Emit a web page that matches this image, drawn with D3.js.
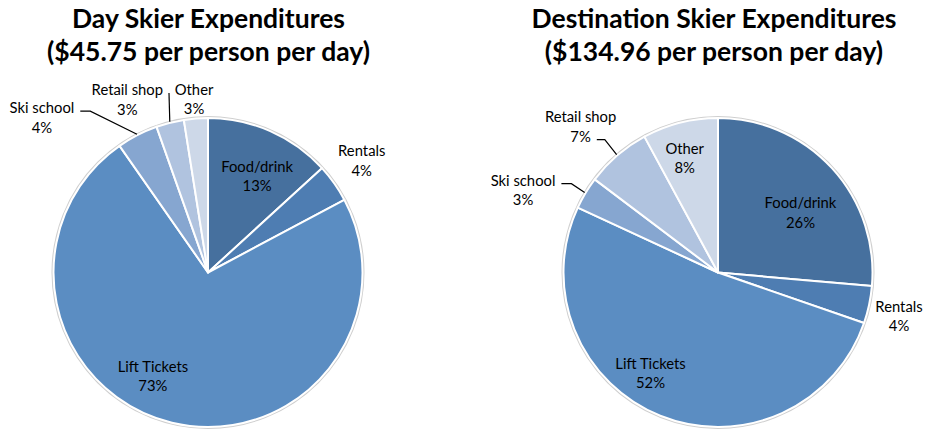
<!DOCTYPE html>
<html>
<head>
<meta charset="utf-8">
<script src="https://cdn.jsdelivr.net/npm/d3@7"></script>
<style>
  body { margin: 0; background: #fff; }
  text { font-family: Lato, "Open Sans", sans-serif; fill: #000; }
</style>
</head>
<body>
<div id="chart-area"></div>
<script>
const categories = ["Food/drink", "Rentals", "Lift Tickets", "Ski school", "Retail shop", "Other"];
const dayShares = [13.2, 4.0, 73.1, 4.3, 2.9, 2.5];
const destShares = [26.4, 3.9, 51.6, 3.4, 6.8, 7.9];
const dayTitle = ["Day Skier Expenditures", "($45.75 per person per day)"];
const destTitle = ["Destination Skier Expenditures", "($134.96 per person per day)"];
const colors = ["#46709e", "#4e7db2", "#5b8dc2", "#86a6d0", "#b0c3df", "#cdd8e8"];

const width = 925, height = 431;

// label placement: [radius factor, angle in degrees clockwise from top]
// leader: which text line it leaves from and length of the horizontal elbow
const pies = [
    {
        title: dayTitle, shares: dayShares, cx: 208, cy: 272.5, r: 154.5, titleX: 208.5,
        place: [[0.70, 27], [1.23, 54], [0.76, 208], [1.47, 313], [1.236, 335], [1.127, 355.4]],
        leaders: { 3: { line: 0, elbow: 10 }, 4: { line: 0, elbow: 0 } }
    },
    {
        title: destTitle, shares: destShares, cx: 718, cy: 272.5, r: 154.5, titleX: 714,
        place: [[0.66, 54], [1.205, 103.5], [0.785, 213.8], [1.37, 292.9], [1.297, 316.7], [0.773, 343.8]],
        leaders: { 3: { line: 0, elbow: 10 }, 4: { line: 1, elbow: 8 } }
    }
];

const svg = d3.select("#chart-area")
    .append("svg")
    .attr("width", width)
    .attr("height", height);

const pie = d3.pie().sort(null).value(d => d.value);

pies.forEach(cfg => {
    const data = categories.map((c, i) => ({ name: c, value: cfg.shares[i] }));
    const total = d3.sum(data, d => d.value);
    const arcs = pie(data);
    const arc = d3.arc().innerRadius(0).outerRadius(cfg.r);

    // title
    svg.append("text")
        .attr("x", cfg.titleX)
        .attr("text-anchor", "middle")
        .attr("font-size", "26.5px")
        .attr("font-weight", "bold")
        .selectAll("tspan")
        .data(cfg.title)
        .join("tspan")
        .attr("x", cfg.titleX)
        .attr("y", (d, i) => 28 + i * 33)
        .text(d => d);

    const g = svg.append("g")
        .attr("transform", `translate(${cfg.cx}, ${cfg.cy})`);

    g.append("circle")
        .attr("r", cfg.r + 1)
        .attr("fill", "none")
        .attr("stroke", "#cfcfcf")
        .attr("stroke-width", 2);

    g.selectAll("path.slice")
        .data(arcs)
        .join("path")
        .attr("class", "slice")
        .attr("d", arc)
        .attr("fill", (d, i) => colors[i])
        .attr("stroke", "#fff")
        .attr("stroke-width", 2)
        .attr("stroke-linejoin", "round");

    arcs.forEach((a, i) => {
        const [rf, deg] = cfg.place[i];
        const ang = deg * Math.PI / 180;
        const lx = rf * cfg.r * Math.sin(ang);
        const ly = -rf * cfg.r * Math.cos(ang);
        const pct = Math.round(a.data.value / total * 100) + "%";
        const lines = [a.data.name, pct];

        const t = g.append("text")
            .attr("text-anchor", "middle")
            .attr("font-size", "14.8px");
        const spans = t.selectAll("tspan")
            .data(lines)
            .join("tspan")
            .attr("x", lx)
            .attr("y", (d, k) => ly - 9.5 + k * 19.5)
            .attr("dy", "0.35em")
            .text(d => d);

        const lead = cfg.leaders[i];
        if (lead) {
            const node = spans.nodes()[lead.line];
            const w = node.getComputedTextLength();
            const sx = lx + w / 2 + 6;
            const sy = ly - 9.5 + lead.line * 19.5 + 3;
            const mid = (a.startAngle + a.endAngle) / 2;
            const ex = (cfg.r + 1) * Math.sin(mid);
            const ey = -(cfg.r + 1) * Math.cos(mid);
            g.append("polyline")
                .attr("points", [[sx, sy], [sx + lead.elbow, sy], [ex, ey]].map(p => p.join(",")).join(" "))
                .attr("fill", "none")
                .attr("stroke", "#000")
                .attr("stroke-width", 1.2);
        }
    });
});
</script>
</body>
</html>
